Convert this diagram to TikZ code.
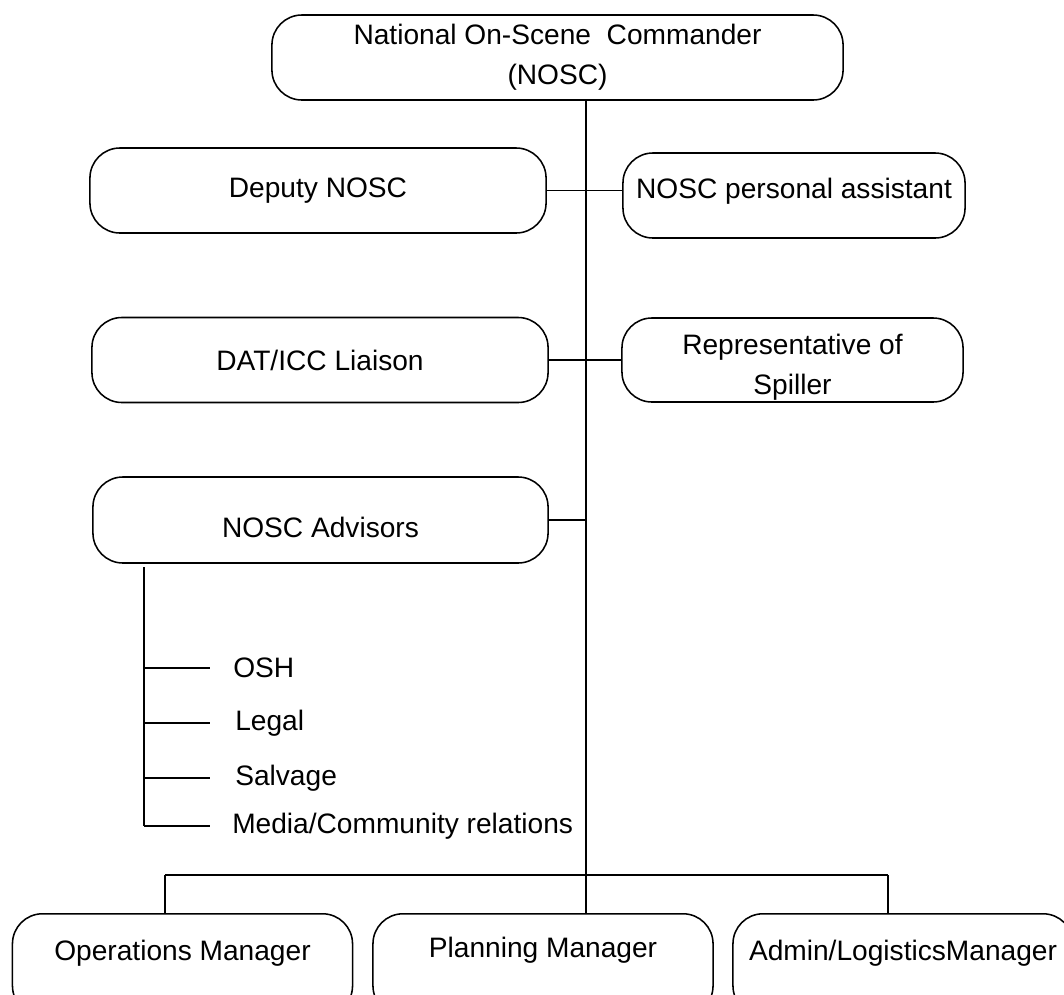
\documentclass[tikz,border=0pt]{standalone}
\usepackage{fontspec}
\setmainfont{Liberation Sans}
\usetikzlibrary{positioning}

\begin{document}
\begin{tikzpicture}[
  x=0.025cm,
  y=-0.025cm,
  font=\fontsize{20}{28.5}\selectfont,
  unit/.style={
    draw=black,
    rounded corners=0.75cm,
    line width=1.1pt,
    align=center,
    inner sep=0pt,
    minimum height=2.125cm
  },
  manager/.style={
    draw=black,
    rounded corners=0.75cm,
    line width=1.1pt,
    anchor=north,
    inner sep=0pt,
    minimum width=8.5cm,
    minimum height=2.55cm,
    text depth=20.4pt
  },
  trunk/.style={draw=black, line width=2pt},
  thinlink/.style={draw=black, line width=0.9pt},
  thicklink/.style={draw=black, line width=1.7pt},
  item/.style={anchor=west, inner sep=0pt}
]

\useasboundingbox (0,0) rectangle (1064,994);
\clip (0,0) rectangle (1064,994);

% ---------------------------------------------------------------------------
% Command and staff boxes
% ---------------------------------------------------------------------------
\node[unit, minimum width=14.275cm] (nosc) at (557.5,57.5) {National On-Scene~ Commander\\(NOSC)};
\node[unit, minimum width=11.4cm] (deputy) at (318,190.5) {Deputy NOSC};
\node[unit, minimum width=8.55cm, text depth=10pt] (assistant) at (794,195.5) {NOSC personal assistant};
\node[unit, minimum width=11.4cm] (liaison) at (320,360) {DAT/ICC Liaison};
\node[unit, minimum width=8.525cm, minimum height=2.1cm, text height=53pt] (spiller) at (792.5,360) {Representative of\\Spiller};
\node[unit, minimum width=11.375cm, minimum height=2.15cm, text height=24.7pt] (advisors) at (320.5,520) {NOSC Advisors};

% ---------------------------------------------------------------------------
% Managers (cut by the lower edge)
% ---------------------------------------------------------------------------
\node[manager] (ops) at (182.5,913) {Operations Manager};
\node[manager, text depth=24.7pt] (planning) at (543,913) {Planning Manager};
\node[manager] (admin) at (903,913) {Admin/LogisticsManager};

% Advisor list
\node[item] (osh) at (233,668) {OSH};
\node[item] (legal) at (235,723) {Legal};
\node[item] (salvage) at (235,778) {Salvage};
\node[item] (media) at (232,826) {Media/Community relations};

\coordinate (hub) at (586,875);
\coordinate (busleft) at (165,875);
\coordinate (busright) at (888,875);
\coordinate (spine) at (144,567);
\coordinate (tip) at (210,0);

% ---------------------------------------------------------------------------
% Connectors
% ---------------------------------------------------------------------------
\draw[trunk] (nosc.south -| hub) -- (planning.north -| hub);
\draw[thinlink] (deputy.east) -- (deputy.east -| assistant.west);
\draw[thicklink] (liaison.east) -- (liaison.east -| spiller.west);
\draw[thicklink] (advisors.east) -- (advisors.east -| hub);

\draw[thinlink] (busleft) -- (busright);
\draw[thinlink] (busleft) -- (busleft |- ops.north);
\draw[thinlink] (busright) -- (busright |- admin.north);

\draw[thinlink] (spine) -- (spine |- media.west);
\draw[thinlink] (spine |- osh.west) -- (tip |- osh.west);
\draw[thicklink] (spine |- legal.west) -- (tip |- legal.west);
\draw[thicklink] (spine |- salvage.west) -- (tip |- salvage.west);
\draw[thinlink] (spine |- media.west) -- (tip |- media.west);

\end{tikzpicture}
\end{document}
